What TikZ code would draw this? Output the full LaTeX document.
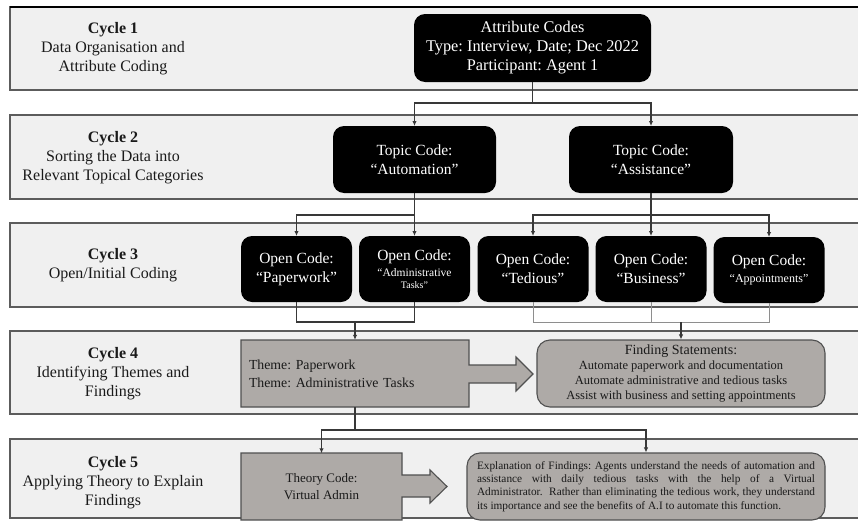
\documentclass[tikz,border=0pt]{standalone}
\usepackage{fontspec}
\setmainfont{Liberation Serif}
\usetikzlibrary{arrows.meta}
\frenchspacing

\definecolor{bandfill}{HTML}{F0F0F0}
\definecolor{bandline}{HTML}{5C5C5C}
\definecolor{boxgray}{HTML}{AEAAA7}
\definecolor{boxline}{HTML}{505050}
\definecolor{wire}{HTML}{383838}
\definecolor{wirelight}{HTML}{8E8E8E}
\definecolor{ink}{HTML}{1A1A1A}

\tikzset{
  band/.style={fill=bandfill, draw=bandline, line width=1.1pt},
  cyclelabel/.style={align=center, text=ink, inner sep=0pt,
    font=\fontsize{16}{19}\selectfont},
  blackbox/.style={fill=black, text=white, rounded corners=11pt, align=center,
    inner sep=0pt, outer sep=0pt},
  codebox/.style={blackbox, minimum width=111pt, minimum height=66pt},
  graybox/.style={fill=boxgray, draw=boxline, line width=1.1pt, text=ink},
  wiring/.style={draw=wire, line width=1.1pt},
  wiringlight/.style={draw=wirelight, line width=0.9pt},
  arr/.style={wiring, -{Latex[length=5pt,width=4.5pt]}},
  big/.style={font=\fontsize{15.5}{19}\selectfont},
}

\begin{document}
\begin{tikzpicture}[x=1pt, y=-1pt]
\useasboundingbox (0,0) rectangle (858,522);

% cycle bands
\draw[band] (10,7)   rectangle (875,90);
\draw[draw=black, line width=1.3pt] (10,7) -- (875,7);
\draw[band] (10,115) rectangle (875,199);
\draw[band] (10,223) rectangle (875,307);
\draw[band] (10,331) rectangle (875,414);
\draw[band] (10,439) rectangle (875,518);

% cycle labels
\node[cyclelabel] (c1) at (113,48.5) {\textbf{Cycle 1}\\Data Organisation and\\Attribute Coding};
\node[cyclelabel] (c2) at (113,157.5) {\textbf{Cycle 2}\\Sorting the Data into\\Relevant Topical Categories};
\node[cyclelabel] (c3) at (113,265.5) {\textbf{Cycle 3}\\Open/Initial Coding};
\node[cyclelabel] (c4) at (113,374) {\textbf{Cycle 4}\\Identifying Themes and\\Findings};
\node[cyclelabel] (c5) at (113,483) {\textbf{Cycle 5}\\Applying Theory to Explain\\Findings};

% cycle 1 and 2 code boxes
\node[blackbox, minimum width=237pt, minimum height=68pt, font=\fontsize{16.3}{19}\selectfont]
  (attr) at (532.5,48) {Attribute Codes\\Type: Interview, Date; Dec 2022\\Participant: Agent 1};
\node[blackbox, minimum width=163pt, minimum height=67pt, big] (auto) at (414.5,159.5)
  {Topic Code:\\``Automation''};
\node[blackbox, minimum width=164pt, minimum height=67pt, big] (assist) at (651,159.5)
  {Topic Code:\\``Assistance''};

% cycle 3 open codes
\node[codebox, big] (paper) at (296.5,269) {Open Code:\\``Paperwork''};
\node[codebox] (admin) at (414.5,269)
  {\fontsize{15.5}{14}\selectfont Open Code:\\[4pt]\fontsize{11.5}{14}\selectfont ``Administrative\\Tasks''};
\node[codebox, big] (tedious) at (533,269) {Open Code:\\``Tedious''};
\node[codebox, big] (business) at (651,269) {Open Code:\\``Business''};
\node[codebox] (appt) at (769,270)
  {\fontsize{15.5}{14}\selectfont Open Code:\\[5pt]\fontsize{12}{14}\selectfont ``Appointments''};

% cycle 4: themes with arrow to findings
\draw[graybox] (241,340) -- (469,340) -- (469,365) -- (516,365) -- (516,357)
  -- (533,374) -- (516,391) -- (516,383) -- (469,383) -- (469,407)
  -- (241,407) -- cycle;
\node[minimum width=228pt, minimum height=67pt, inner ysep=0pt, inner xsep=8pt,
  text width=212pt, align=left, text=ink, font=\fontsize{13.8}{18}\selectfont]
  (theme) at (355,373.5) {Theme: Paperwork\\Theme: Administrative Tasks};
\node[graybox, rounded corners=13pt, minimum width=288pt, minimum height=67pt,
  inner sep=0pt, align=center, font=\fontsize{12.5}{15}\selectfont]
  (find) at (681,373.5)
  {\fontsize{14}{15}\selectfont Finding Statements:\\\fontsize{12.5}{15}\selectfont Automate paperwork and documentation\\
   Automate administrative and tedious tasks\\Assist with business and setting appointments};

% cycle 5: theory with arrow to explanation
\draw[graybox] (241,453) -- (402,453) -- (402,475) -- (430,475) -- (430,470)
  -- (447,486.5) -- (430,503) -- (430,497) -- (402,497) -- (402,520)
  -- (241,520) -- cycle;
\node[minimum width=161pt, minimum height=67pt, inner sep=0pt, align=center,
  text=ink, font=\fontsize{13}{17}\selectfont]
  (theory) at (321.5,487) {Theory Code:\\Virtual Admin};
\node[graybox, rounded corners=13pt, minimum width=358pt, minimum height=67pt,
  inner xsep=10pt, inner ysep=0pt, text width=338pt, align=justify,
  font=\fontsize{11.3}{13.2}\selectfont]
  (expl) at (646,486.5)
  {Explanation of Findings: Agents understand the needs of automation and\linebreak
   assistance with daily tedious tasks with the help of a Virtual\linebreak
   Administrator.\ \ Rather than eliminating the tedious work, they understand\linebreak
   its importance and see the benefits of A.I to automate this function.};

% connectors: cycle 1 to cycle 2
\coordinate (j1) at (attr.south |- 0,103);
\draw[wiring] (attr.south) -- (j1);
\draw[arr] (j1) -| (auto.north);
\draw[arr] (j1) -| (assist.north);

% cycle 2 to cycle 3
\coordinate (j2) at (auto.south |- 0,215);
\draw[wiring] (auto.south) -- (j2);
\draw[arr] (j2) -- (admin.north);
\draw[arr] (j2) -| (paper.north);
\coordinate (j3) at (assist.south |- 0,215);
\draw[wiring] (assist.south) -- (j3);
\draw[arr] (j3) -| (tedious.north);
\draw[arr] (j3) -- (business.north);
\draw[arr] (j3) -| (appt.north);

% cycle 3 to cycle 4
\coordinate (j4) at (theme.north |- 0,322);
\draw[wiring] (paper.south) |- (j4);
\draw[wiring] (admin.south) |- (j4);
\draw[arr] (j4) -- (theme.north);
\coordinate (j5) at (find.north |- 0,322);
\draw[wiringlight] (tedious.south) |- (j5);
\draw[wiringlight] (appt.south) |- (j5);
\draw[wiringlight] (business.south) -- (business.south |- j5);
\draw[arr] (j5) -- (find.north);

% cycle 4 to cycle 5
\coordinate (j6) at (theme.south |- 0,430);
\draw[wiring] (theme.south) -- (j6);
\draw[arr] (j6) -| (theory.north);
\draw[arr] (j6) -| (expl.north);
\end{tikzpicture}
\end{document}
